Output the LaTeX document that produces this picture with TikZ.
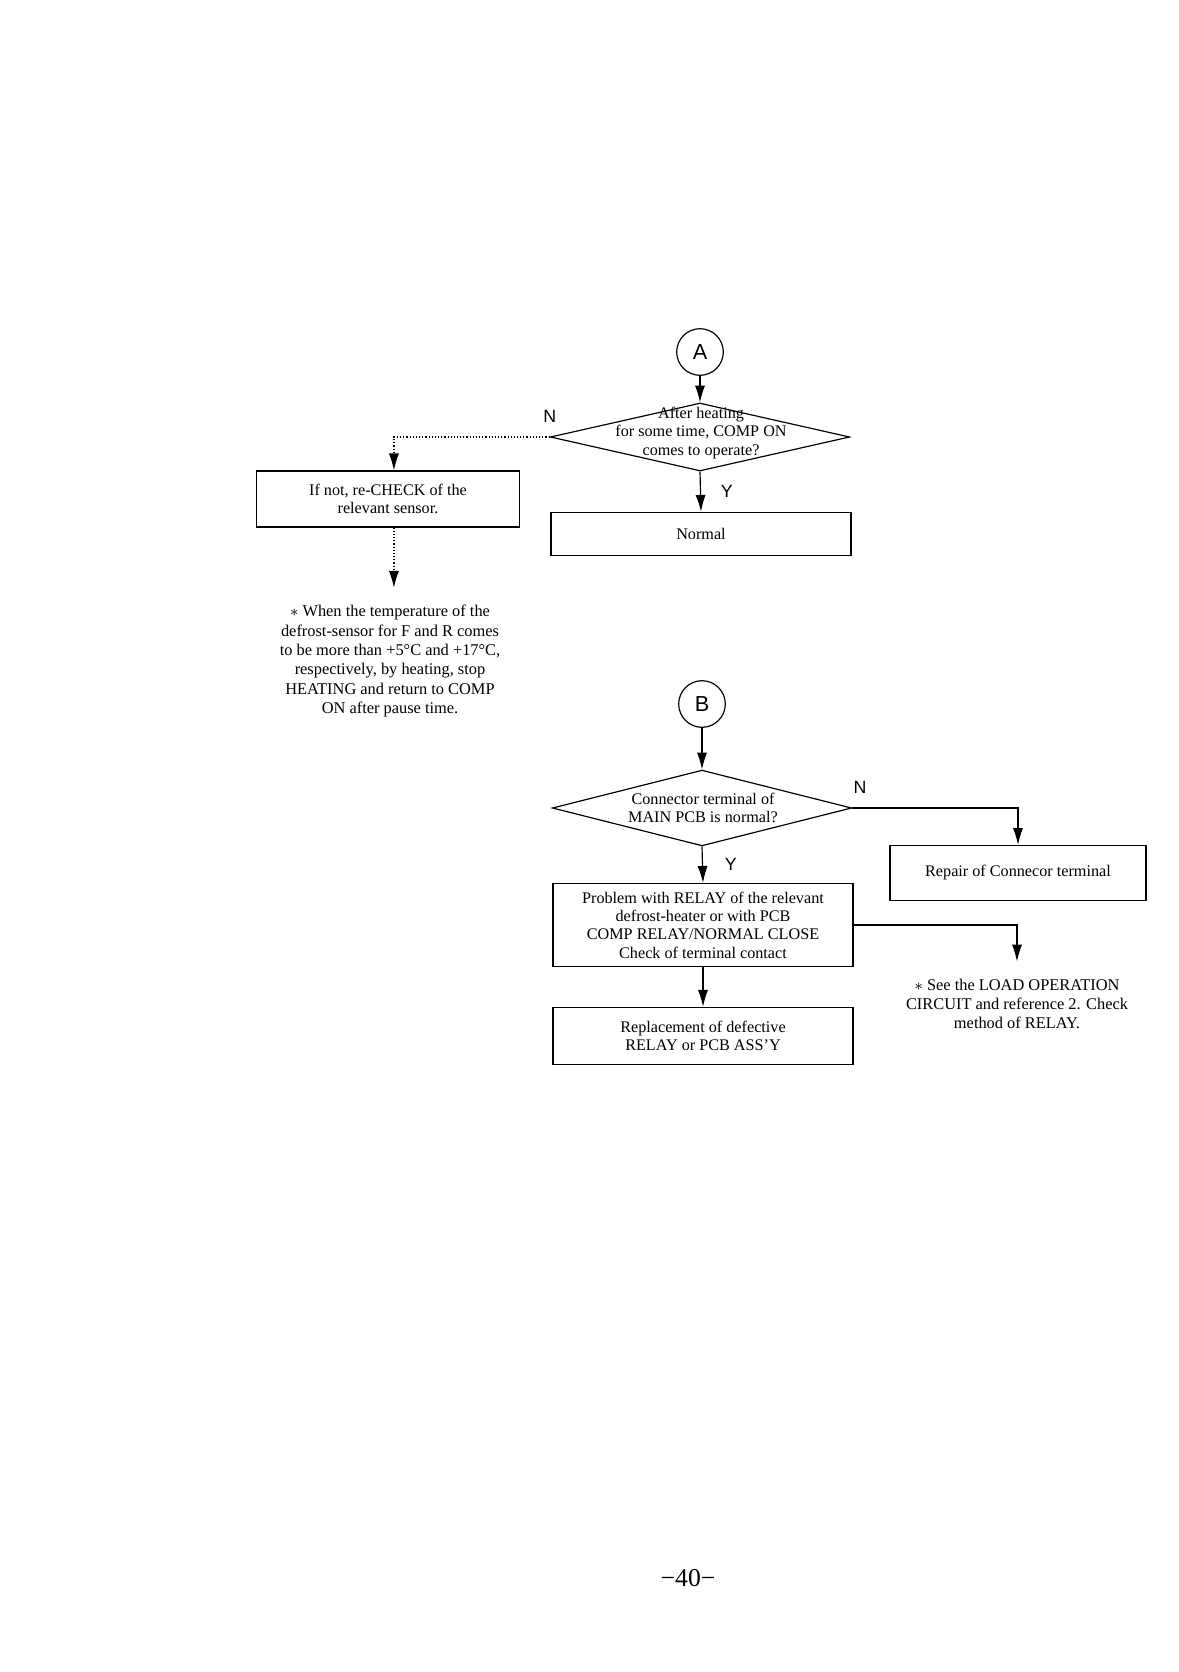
\documentclass[tikz,border=0pt]{standalone}
\usepackage{fontspec}
\setmainfont{Liberation Serif}
\setsansfont{Liberation Sans}
\usetikzlibrary{shapes.geometric,arrows.meta}

\begin{document}
\begin{tikzpicture}[
    x=0.01781cm, y=-0.01781cm,
    font=\fontsize{8.2}{9.3}\selectfont,
    % Cajas de proceso y rombos de decision
    box/.style={draw, line width=0.6pt, align=center, inner sep=1pt},
    decision/.style={draw, diamond, line width=0.6pt, inner sep=0pt, minimum width=5.33cm},
    connector/.style={draw, circle, line width=0.6pt, minimum size=0.83cm, inner sep=0pt, font=\sffamily\fontsize{11}{13}\selectfont},
    qtext/.style={align=center, inner sep=0pt},
    % Notas sin marco
    note/.style={align=center, inner xsep=2pt, inner ysep=8.6pt, font=\fontsize{8.3}{9.8}\selectfont},
    % Flechas
    link/.style={line width=0.6pt, -{Latex[length=3mm,width=1.8mm]}},
    dotlink/.style={link, densely dotted},
    yn/.style={font=\sffamily\fontsize{9}{11}\selectfont, inner sep=1pt}
]
\useasboundingbox (0,0) rectangle (1179,1672);

% --- Rama A ---
\node[connector] (ca) at (700,352) {A};
\node[decision, minimum height=1.21cm] (q1) at (700,437) {};
\node[qtext] (q1t) at (701,433) {After heating\\for some time, COMP ON\\comes to operate?};
\node[box, minimum width=4.67cm, minimum height=1cm] (recheck) at (388,499) {If not, re-CHECK of the\\relevant sensor.};
\node[box, minimum width=5.34cm, minimum height=0.77cm] (normal) at (701,534) {Normal};
\node[note] (note1) at (390,661) {$\ast$ When the temperature of the\\defrost-sensor for F and R comes\\to be more than +5°C and +17°C,\\respectively, by heating, stop\\HEATING and return to COMP\\ON after pause time.};

\draw[link] (ca) -- (q1);
\draw[dotlink] (q1.west) -| node[pos=0, yn, above=6pt] {N} ([xshift=3pt]recheck.north);
\draw[link] (q1.south) -- node[yn, right=9pt] {Y} (normal.north);
\draw[dotlink] ([xshift=3pt]recheck.south) -- ([xshift=3pt]recheck.south |- note1.north);

% --- Rama B ---
\node[connector] (cb) at (702,704) {B};
\node[decision, minimum height=1.35cm] (q2) at (702,808) {};
\node[qtext] (q2t) at (703,808) {Connector terminal of\\MAIN PCB is normal?};
\node[box, minimum width=4.56cm, minimum height=0.98cm] (repair) at (1018,873) {Repair of Connecor terminal};
\node[box, minimum width=5.34cm, minimum height=1.48cm] (problem) at (703,925) {Problem with RELAY of the relevant\\defrost-heater or with PCB\\COMP RELAY/NORMAL CLOSE\\Check of terminal contact};
\node[box, minimum width=5.34cm, minimum height=1.02cm] (replace) at (703,1036) {Replacement of defective\\RELAY or PCB ASS’Y};
\node[note] (note2) at (1017,1004) {$\ast$ See the LOAD OPERATION\\CIRCUIT and reference 2. Check\\method of RELAY.};

\draw[link] (cb) -- (q2);
\draw[link] (q2.east) -| node[pos=0, yn, above=6pt, xshift=4pt] {N} (repair.north);
\draw[link] (q2.south) -- node[yn, right=10pt] {Y} (problem.north);
\draw[link] (problem.east) -| (note2.north);
\draw[link] (problem.south) -- (replace.north);

% --- Numero de pagina ---
\node[font=\fontsize{13}{15}\selectfont] (pagenum) at (688,1578) {−40−};

\end{tikzpicture}
\end{document}
